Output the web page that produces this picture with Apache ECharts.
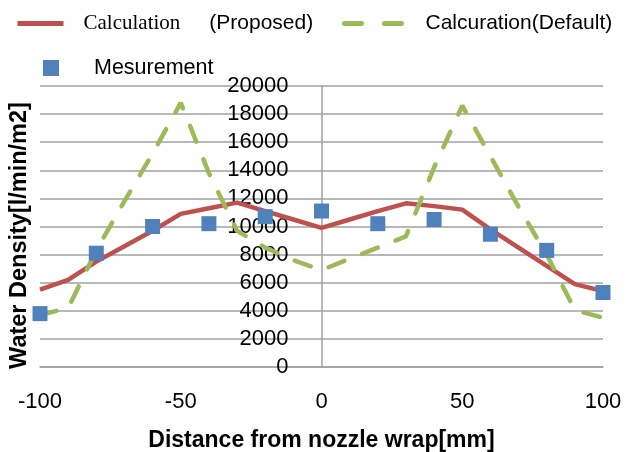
<!DOCTYPE html>
<html>
<head>
<meta charset="utf-8">
<title>Water Density</title>
<script src="https://cdn.jsdelivr.net/npm/echarts@6/dist/echarts.min.js"></script>
<style>
html,body{margin:0;padding:0;background:#fff;}
#chart{width:625px;height:452px;}
</style>
</head>
<body>
<div id="chart"></div>
<script>

// =====================================================
// DONNEES
// =====================================================

const distances = [-100,-90,-80,-70,-60,-50,-40,-30,-20,-10,0,10,20,30,40,50,60,70,80,90,100];

const proposedValues = [5500,6200,7500,8600,9700,10900,11300,11700,11100,10500,9900,10500,11100,11650,11450,11200,9800,8500,7200,5900,5400];

const defaultValues = [3700,4200,8300,11800,15200,18800,13800,9700,8500,7600,6900,7700,8500,9300,14200,18600,15000,11400,8000,4050,3500];

const measureDistances = [-100,-80,-60,-40,-20,0,20,40,60,80,100];

const measureValues = [3800,8100,10000,10200,10700,11100,10200,10500,9450,8300,5300];

const xTicks = [-100,-50,0,50,100];

const seriesNames = ["Calculation (Proposed)","Calcuration(Default)","Mesurement"];


const FONT = "Liberation Sans";

function pairs(xs, ys){
    return xs.map((x,i)=>[x, ys[i]]);
}


// =====================================================
// CHART
// =====================================================

const chart = echarts.init(document.getElementById("chart"));

// l'axe Y est dessine au milieu (x = 0)
const gridLeft = 40;
const gridRight = 22;
const yAxisShift = (625 - gridLeft - gridRight) / 2;

chart.setOption({

    animation:false,

    legend:[
        {
            left:10,
            top:8,
            itemWidth:46,
            itemHeight:14,
            data:[{
                name:seriesNames[0],
                itemStyle:{opacity:0},
                lineStyle:{width:5,color:"#c0504d"}
            }],
            formatter:()=>"{sp| }{s|Calculation}{sp2| }{p|(Proposed)}",
            textStyle:{
                rich:{
                    sp:{width:15},
                    sp2:{width:29},
                    s:{fontFamily:"Liberation Serif",fontSize:21,color:"#000"},
                    p:{fontFamily:FONT,fontSize:21,color:"#000"}
                }
            }
        },
        {
            left:337,
            top:8,
            itemWidth:62,
            itemHeight:14,
            data:[{
                name:seriesNames[1],
                itemStyle:{opacity:0},
                lineStyle:{width:5,color:"#9bbb59",type:[17,23],cap:"round"}
            }],
            formatter:(name)=>"{sp| }{p|"+name+"}",
            textStyle:{
                rich:{
                    sp:{width:14},
                    p:{fontFamily:FONT,fontSize:21,color:"#000"}
                }
            }
        },
        {
            left:38,
            top:52,
            itemWidth:16,
            itemHeight:16,
            data:[{
                name:seriesNames[2],
                itemStyle:{opacity:1}
            }],
            formatter:(name)=>"{sp| }{p|"+name+"}",
            textStyle:{
                rich:{
                    sp:{width:30},
                    p:{fontFamily:FONT,fontSize:21.5,color:"#000"}
                }
            }
        }
    ],

    grid:{
        left:gridLeft,
        right:gridRight,
        top:86,
        bottom:85,
        containLabel:false,
        outerBoundsMode:"none"
    },

    xAxis:{
        type:"value",
        min:-100,
        max:100,
        interval:50,
        name:"Distance from nozzle wrap[mm]",
        nameLocation:"middle",
        nameGap:62,
        nameTextStyle:{fontFamily:FONT,fontSize:23,fontWeight:"bold",color:"#000"},
        axisLine:{show:true,lineStyle:{color:"#a0a0a0",width:1.5}},
        axisTick:{show:false},
        splitLine:{show:false},
        axisLabel:{
            fontFamily:FONT,
            fontSize:22,
            color:"#000",
            margin:24,
            formatter:(v)=>xTicks.includes(v) ? String(v) : ""
        }
    },

    yAxis:{
        type:"value",
        min:0,
        max:20000,
        interval:2000,
        offset:-yAxisShift,
        name:"Water Density[l/min/m2]",
        nameLocation:"middle",
        nameGap:290,
        nameRotate:90,
        nameTextStyle:{fontFamily:FONT,fontSize:23.5,fontWeight:"bold",color:"#000",padding:[0,18,0,0]},
        axisLine:{show:true,onZero:false,lineStyle:{color:"#a0a0a0",width:1.5}},
        axisTick:{show:false},
        splitLine:{show:true,lineStyle:{color:"#a0a0a0",width:1.5}},
        axisLabel:{
            fontFamily:FONT,
            fontSize:22,
            color:"#000",
            margin:33,
            formatter:(v)=>String(v)
        }
    },

    series:[
        {
            name:seriesNames[0],
            type:"line",
            data:pairs(distances, proposedValues),
            symbol:"none",
            color:"#c0504d",
            lineStyle:{color:"#c0504d",width:4.5},
            z:2
        },
        {
            name:seriesNames[1],
            type:"line",
            data:pairs(distances, defaultValues),
            symbol:"none",
            color:"#9bbb59",
            lineStyle:{color:"#9bbb59",width:4.5,type:[17,19],cap:"round"},
            z:3
        },
        {
            name:seriesNames[2],
            type:"scatter",
            data:pairs(measureDistances, measureValues),
            symbol:"rect",
            symbolSize:15,
            itemStyle:{color:"#4f81bd",opacity:1},
            z:4
        }
    ]

});

</script>
</body>
</html>
